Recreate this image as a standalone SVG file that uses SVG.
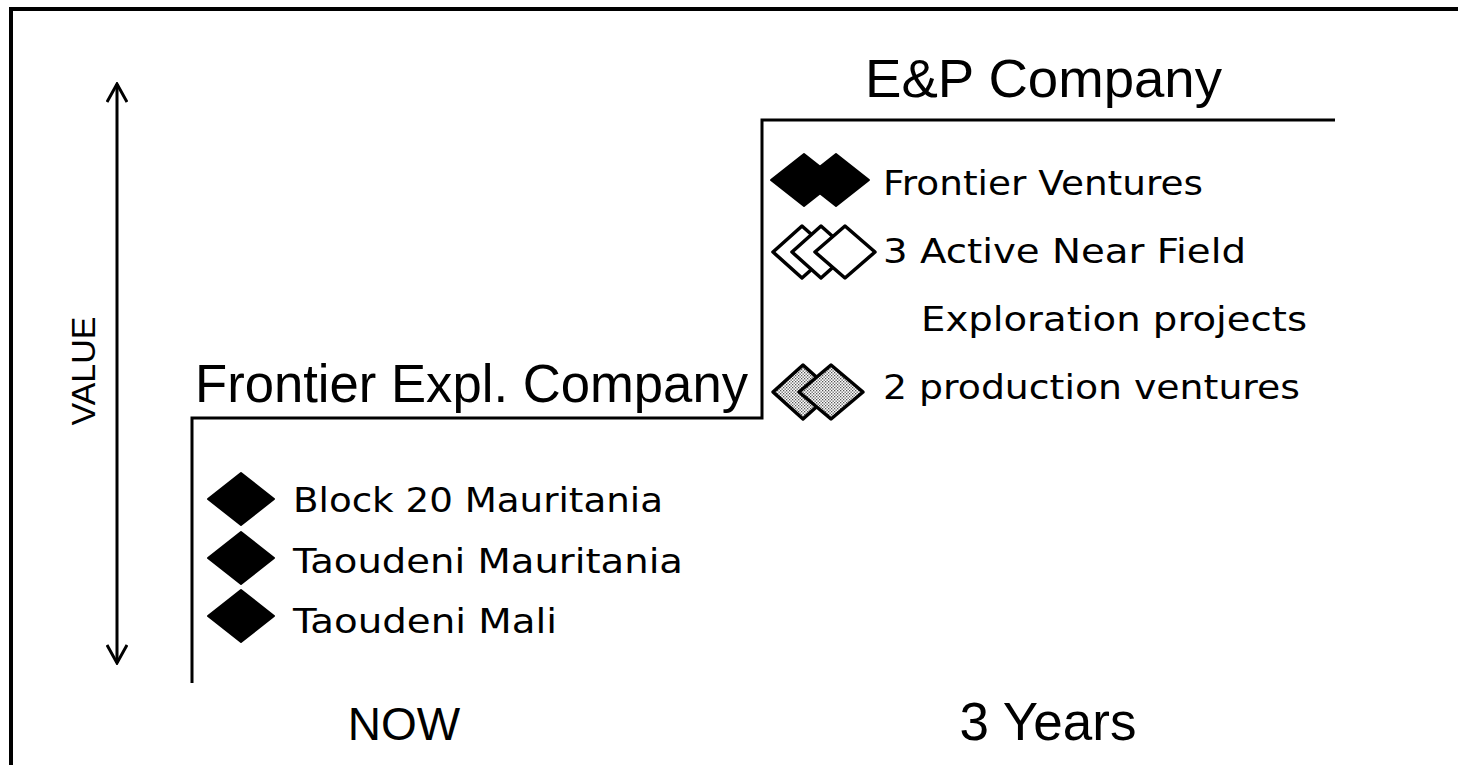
<svg xmlns="http://www.w3.org/2000/svg" width="1458" height="765" viewBox="0 0 1458 765">
<defs>
<style>
.ln{stroke:#000;stroke-width:3;fill:none}
.h{font-family:"Liberation Sans",Arial,sans-serif;fill:#000}
.b{font-family:"DejaVu Sans",Tahoma,sans-serif;font-size:33px;fill:#000}
.blk{fill:#000;stroke:#000;stroke-width:2;stroke-linejoin:round}
.wht{fill:#fff;stroke:#000;stroke-width:3.5;stroke-linejoin:round}
.gry{fill:url(#dots);stroke:#000;stroke-width:3.5;stroke-linejoin:round}
</style>
<pattern id="dots" width="3" height="3" patternUnits="userSpaceOnUse">
<rect width="3" height="3" fill="#fff"/>
<rect x="0" y="0" width="1.3" height="1.3" fill="#555"/>
<rect x="1.5" y="1.5" width="1.3" height="1.3" fill="#555"/>
</pattern>
<marker id="ah" viewBox="0 0 22 22" refX="20" refY="11" markerWidth="22" markerHeight="22" markerUnits="userSpaceOnUse" orient="auto-start-reverse">
<path d="M2,1 L20,11 L2,21" fill="none" stroke="#000" stroke-width="3"/>
</marker>
</defs>
<rect width="1458" height="765" fill="#fff"/>
<path d="M11,765 V9 H1458" fill="none" stroke="#000" stroke-width="4"/>
<g id="connectors">
<line class="ln" x1="117" y1="84" x2="117" y2="663" marker-start="url(#ah)" marker-end="url(#ah)"/>
<path class="ln" d="M192,683 V418 H762 V120 H1335"/>
</g>
<g id="value"><text class="h" font-size="34" transform="translate(95,371) rotate(-90)" text-anchor="middle">VALUE</text></g>
<g id="now"><text class="h" font-size="46" x="404" y="740" text-anchor="middle">NOW</text></g>
<g id="years"><text class="h" font-size="53" x="1048" y="740" text-anchor="middle">3 Years</text></g>
<g id="frontier-expl"><text class="h" font-size="53" x="195" y="402" textLength="553" lengthAdjust="spacingAndGlyphs">Frontier Expl. Company</text></g>
<g id="ep-company"><text class="h" font-size="53" x="865" y="97" textLength="357" lengthAdjust="spacingAndGlyphs">E&amp;P Company</text></g>
<g id="block20">
<path class="blk" d="M208,499 L241,473 L274,499 L241,525 Z"/>
<text class="b" x="293" y="512" textLength="370" lengthAdjust="spacingAndGlyphs">Block 20 Mauritania</text>
</g>
<g id="taoudeni-mauritania">
<path class="blk" d="M208,558 L241,532 L274,558 L241,584 Z"/>
<text class="b" x="293" y="573" textLength="390" lengthAdjust="spacingAndGlyphs">Taoudeni Mauritania</text>
</g>
<g id="taoudeni-mali">
<path class="blk" d="M208,616 L241,590 L274,616 L241,642 Z"/>
<text class="b" x="293" y="633" textLength="264" lengthAdjust="spacingAndGlyphs">Taoudeni Mali</text>
</g>
<g id="frontier-ventures">
<path class="blk" d="M771,180 L804,154 L837,180 L804,206 Z"/>
<path class="blk" d="M803,180 L836,154 L869,180 L836,206 Z"/>
<text class="b" x="883" y="195" textLength="320" lengthAdjust="spacingAndGlyphs">Frontier Ventures</text>
</g>
<g id="near-field">
<path class="wht" d="M773,252 L802,226 L831,252 L802,278 Z"/>
<path class="wht" d="M792,252 L821,226 L850,252 L821,278 Z"/>
<path class="wht" d="M815,252 L845,226 L875,252 L845,278 Z"/>
<text class="b" x="883" y="263" textLength="363" lengthAdjust="spacingAndGlyphs">3 Active Near Field</text>
<text class="b" x="921" y="331" textLength="386" lengthAdjust="spacingAndGlyphs">Exploration projects</text>
</g>
<g id="production">
<path class="gry" d="M773,392 L803,365 L833,392 L803,419 Z"/>
<path class="gry" d="M799,392 L831,365 L863,392 L831,419 Z"/>
<text class="b" x="883" y="399" textLength="417" lengthAdjust="spacingAndGlyphs">2 production ventures</text>
</g>
</svg>
